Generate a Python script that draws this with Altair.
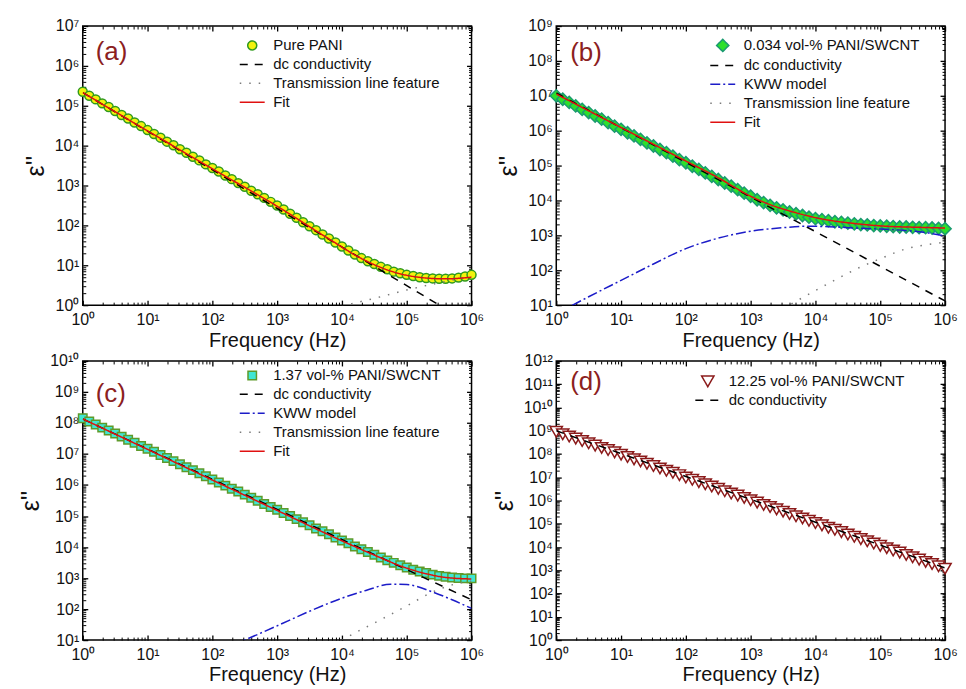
import json
import math
import altair as alt
import pandas as pd

# ---------------- data (log10 values) ----------------
LOG_F = [0.0, 0.1, 0.2, 0.3, 0.4, 0.5, 0.6, 0.7, 0.8, 0.9,
         1.0, 1.1, 1.2, 1.3, 1.4, 1.5, 1.6, 1.7, 1.8, 1.9,
         2.0, 2.1, 2.2, 2.3, 2.4, 2.5, 2.6, 2.7, 2.8, 2.9,
         3.0, 3.1, 3.2, 3.3, 3.4, 3.5, 3.6, 3.7, 3.8, 3.9,
         4.0, 4.1, 4.2, 4.3, 4.4, 4.5, 4.6, 4.7, 4.8, 4.9,
         5.0, 5.1, 5.2, 5.3, 5.4, 5.5, 5.6, 5.7, 5.8, 5.9,
         6.0]

A_DATA = [5.35, 5.25, 5.16, 5.06, 4.97, 4.87, 4.77, 4.68, 4.58, 4.49,
          4.39, 4.29, 4.20, 4.10, 4.01, 3.91, 3.82, 3.72, 3.63, 3.53,
          3.44, 3.35, 3.25, 3.16, 3.06, 2.97, 2.87, 2.78, 2.69, 2.59,
          2.50, 2.40, 2.29, 2.19, 2.08, 1.98, 1.88, 1.77, 1.67, 1.57,
          1.47, 1.37, 1.27, 1.18, 1.10, 1.03, 0.96, 0.90, 0.84, 0.80,
          0.76, 0.73, 0.70, 0.68, 0.67, 0.66, 0.66, 0.67, 0.69, 0.72,
          0.76]
A_FIT_F = [0.0, 1.0, 2.0, 3.0, 3.8, 4.3, 4.8, 5.3, 5.6, 6.0]
A_FIT = [5.33, 4.37, 3.42, 2.48, 1.66, 1.17, 0.83, 0.68, 0.66, 0.70]
A_DC_F = [0.0, 6.0]
A_DC = [5.33, -0.48]
A_TL_F = [4.0, 4.24, 4.5, 5.0, 5.5, 6.0]
A_TL = [-0.03, 0.07, 0.17, 0.38, 0.56, 0.72]

B_DATA = [7.00, 6.90, 6.81, 6.71, 6.61, 6.52, 6.42, 6.33, 6.23, 6.13,
          6.04, 5.94, 5.85, 5.75, 5.65, 5.56, 5.46, 5.37, 5.27, 5.17,
          5.08, 4.98, 4.89, 4.79, 4.69, 4.60, 4.50, 4.41, 4.31, 4.21,
          4.12, 4.02, 3.94, 3.86, 3.79, 3.73, 3.67, 3.62, 3.57, 3.52,
          3.48, 3.45, 3.42, 3.39, 3.37, 3.35, 3.33, 3.31, 3.30, 3.28,
          3.27, 3.26, 3.25, 3.24, 3.24, 3.23, 3.22, 3.22, 3.21, 3.20,
          3.19]
B_FIT_F = [0.0, 0.5, 1.0, 1.5, 2.0, 2.5, 3.0, 3.3, 3.6, 4.1, 4.6, 5.1, 5.6, 6.0]
B_FIT = [7.05, 6.57, 6.09, 5.61, 5.13, 4.65, 4.12, 3.88, 3.70, 3.47, 3.34, 3.26, 3.23, 3.21]
B_DC_F = [0.0, 6.0]
B_DC = [7.08, 1.12]
B_KWW_F = [0.0, 0.5, 1.0, 1.5, 2.0, 2.5, 3.0, 3.5, 3.86, 4.2, 4.62, 5.0, 5.39, 5.7, 6.0]
B_KWW = [0.75, 1.24, 1.71, 2.18, 2.62, 2.92, 3.12, 3.22, 3.26, 3.25, 3.21, 3.18, 3.14, 3.08, 2.98]
B_TL_F = [3.5, 3.65, 4.0, 4.3, 4.67, 5.0, 5.41, 5.87, 6.0]
B_TL = [0.91, 1.06, 1.42, 1.72, 2.07, 2.33, 2.62, 2.77, 2.80]

C_DATA = [8.15, 8.05, 7.95, 7.85, 7.76, 7.66, 7.56, 7.46, 7.36, 7.26,
          7.17, 7.07, 6.97, 6.87, 6.77, 6.67, 6.57, 6.48, 6.38, 6.28,
          6.18, 6.08, 5.98, 5.88, 5.79, 5.69, 5.59, 5.49, 5.39, 5.29,
          5.20, 5.10, 5.00, 4.90, 4.80, 4.70, 4.60, 4.51, 4.41, 4.31,
          4.21, 4.12, 4.02, 3.93, 3.84, 3.75, 3.66, 3.57, 3.49, 3.41,
          3.34, 3.27, 3.21, 3.16, 3.11, 3.07, 3.04, 3.02, 3.00, 2.99,
          2.99]
C_FIT_F = [0.0, 1.0, 2.0, 3.0, 4.0, 4.5, 5.0, 5.3, 5.6, 6.0]
C_FIT = [8.13, 7.15, 6.16, 5.18, 4.20, 3.74, 3.32, 3.14, 3.02, 2.97]
C_DC_F = [0.0, 6.0]
C_DC = [8.13, 2.30]
C_KWW_F = [2.3, 2.5, 3.0, 3.5, 4.0, 4.37, 4.75, 5.0, 5.4, 5.7, 6.0]
C_KWW = [0.82, 1.00, 1.46, 1.93, 2.35, 2.60, 2.80, 2.79, 2.55, 2.30, 2.02]
C_TL_F = [4.0, 4.09, 4.5, 5.0, 5.4, 5.7, 6.0]
C_TL = [0.98, 1.10, 1.55, 2.10, 2.55, 2.78, 2.90]

D_DATA = [8.95, 8.85, 8.75, 8.66, 8.56, 8.46, 8.36, 8.26, 8.17, 8.07,
          7.97, 7.87, 7.77, 7.68, 7.58, 7.48, 7.38, 7.28, 7.19, 7.09,
          6.99, 6.89, 6.79, 6.70, 6.60, 6.50, 6.40, 6.30, 6.21, 6.11,
          6.01, 5.91, 5.81, 5.72, 5.62, 5.52, 5.42, 5.32, 5.23, 5.13,
          5.03, 4.93, 4.83, 4.74, 4.64, 4.54, 4.44, 4.34, 4.25, 4.15,
          4.05, 3.95, 3.85, 3.76, 3.66, 3.56, 3.46, 3.36, 3.27, 3.17,
          3.07]
D_DC_F = [0.0, 6.0]
D_DC = [9.00, 3.10]

SUP = ["⁰", "¹", "²", "³", "⁴", "⁵", "⁶", "⁷", "⁸", "⁹", "¹⁰", "¹¹", "¹²"]

# ---------------- styling ----------------
FONT = "Liberation Sans"
LINE_STYLE = {
    "dc conductivity": ("#000000", [8, 7]),
    "KWW model": ("#1C1CC8", [10, 3, 2, 3]),
    "Transmission line feature": ("#7A7A7A", [1.5, 8]),
    "Fit": ("#E01010", [1, 0]),
}
LEG_LINE_PX = 25      # legend line-sample length
LEG_GAP_PX = 9        # gap between legend sample and its text
LEG_MIN_COL = 16      # legend symbol column never narrower than this
LABEL_EXPR = ("'10' + " + json.dumps(SUP, ensure_ascii=False).replace('"', "'")
              + "[round(log(datum.value) / LN10)]")

PANELS = [
    dict(tag="(a)", ylo=0, yhi=7, label="Pure PANI", shape="circle",
         fill="#F2F20C", edge="#2F9A1C", msize=81, data=A_DATA,
         lines=[("dc conductivity", A_DC_F, A_DC),
                ("Transmission line feature", A_TL_F, A_TL),
                ("Fit", A_FIT_F, A_FIT)],
         leg=(158, 12), tagpos=(13, 26)),
    dict(tag="(b)", ylo=1, yhi=9, label="0.034 vol-% PANI/SWCNT", shape="diamond",
         fill="#2CE02C", edge="#1A9A70", msize=150, data=B_DATA,
         lines=[("dc conductivity", B_DC_F, B_DC),
                ("KWW model", B_KWW_F, B_KWW),
                ("Transmission line feature", B_TL_F, B_TL),
                ("Fit", B_FIT_F, B_FIT)],
         leg=(155, 12), tagpos=(14, 27)),
    dict(tag="(c)", ylo=1, yhi=10, label="1.37 vol-% PANI/SWCNT", shape="square",
         fill="#3FE6D4", edge="#5E9A2A", msize=72, data=C_DATA,
         lines=[("dc conductivity", C_DC_F, C_DC),
                ("KWW model", C_KWW_F, C_KWW),
                ("Transmission line feature", C_TL_F, C_TL),
                ("Fit", C_FIT_F, C_FIT)],
         leg=(158, 7), tagpos=(13, 33)),
    dict(tag="(d)", ylo=0, yhi=12, label="12.25 vol-% PANI/SWCNT", shape="triangle-down",
         fill="#FFFFFF", edge="#8B1A1A", msize=150, data=D_DATA,
         lines=[("dc conductivity", D_DC_F, D_DC)],
         leg=(140, 13), tagpos=(14, 21)),
]

W, H = 390, 280


def decades(lo, hi):
    return [10.0 ** k for k in range(lo, hi + 1)]


def minors(lo, hi):
    return [m * 10.0 ** k for k in range(lo, hi) for m in range(2, 10)]


def axis(orient, values, major, labels=False, title=None, tsize=20, tpad=2, lpad=4):
    size = 5 if major else 3
    kw = dict(orient=orient, values=values, tickSize=size, offset=-size,
              domain=False, grid=False, labels=labels, title=title,
              tickColor="black", tickWidth=1.3 if major else 1.0)
    if labels:
        kw.update(labelExpr=LABEL_EXPR, labelFlush=False, labelOverlap=False,
                  labelPadding=lpad, labelFont=FONT, labelFontSize=16, labelColor="#111")
    if title is not None:
        kw.update(titleFont=FONT, titleFontSize=tsize, titleFontWeight="normal",
                  titleColor="#111", titlePadding=tpad)
    return alt.Axis(**kw)


def panel(p):
    pts = pd.DataFrame({"f": [10 ** v for v in LOG_F],
                        "e": [10 ** v for v in p["data"]],
                        "s": p["label"]})
    rows = []
    for name, fs, vs in p["lines"]:
        for f, v in zip(fs, vs):
            rows.append({"f": 10 ** f, "e": 10 ** v, "s": name})
    lines = pd.DataFrame(rows)
    names = [n for n, _, _ in p["lines"]]
    domain = [p["label"]] + names
    n = len(names)

    # legend line sample: a custom path scaled by sqrt(size)/2 so it is LEG_LINE_PX long
    side = math.sqrt(p["msize"])
    col = max(side, LEG_MIN_COL)
    half = (LEG_LINE_PX / 2) / (side / 2)
    line_path = f"M{-half:.3f},0H{half:.3f}"
    lab_off = LEG_LINE_PX / 2 - col / 2 + LEG_GAP_PX
    leg_x = p["leg"][0] + LEG_LINE_PX / 2 - col / 2

    xs = alt.Scale(type="log", domain=[1, 1e6], nice=False)
    ys = alt.Scale(type="log", domain=[10.0 ** p["ylo"], 10.0 ** p["yhi"]], nice=False)
    fill_s = alt.Scale(domain=domain, range=[p["fill"]] + ["transparent"] * n)
    stroke_s = alt.Scale(domain=domain, range=[p["edge"]] + [LINE_STYLE[k][0] for k in names])
    shape_s = alt.Scale(domain=domain, range=[p["shape"]] + [line_path] * n)
    dash_s = alt.Scale(domain=domain, range=[[1, 0]] + [LINE_STYLE[k][1] for k in names])
    leg = alt.Legend(orient="none", legendX=leg_x, legendY=p["leg"][1], title=None,
                     labelFont=FONT, labelFontSize=15, labelColor="#111", labelLimit=400,
                     rowPadding=3, labelOffset=lab_off, symbolStrokeWidth=1.5,
                     symbolSize=p["msize"], padding=0)

    xdec, xmin = decades(0, 6), minors(0, 6)
    ydec, ymin = decades(p["ylo"], p["yhi"]), minors(p["ylo"], p["yhi"])

    points = alt.Chart(pts).mark_point(filled=True, strokeWidth=1.5, opacity=1,
                                       size=p["msize"]).encode(
        x=alt.X("f:Q", scale=xs, axis=axis("bottom", xdec, True, labels=True,
                                           title="Frequency (Hz)", tsize=20, tpad=3, lpad=6)),
        y=alt.Y("e:Q", scale=ys, axis=axis("left", ydec, True, labels=True,
                                           title="ε''", tsize=25, tpad=6, lpad=4)),
        fill=alt.Fill("s:N", scale=fill_s, legend=leg),
        stroke=alt.Stroke("s:N", scale=stroke_s, legend=leg),
        shape=alt.Shape("s:N", scale=shape_s, legend=leg),
    )
    curve = alt.Chart(lines).mark_line(strokeWidth=1.5, clip=True, interpolate="monotone").encode(
        x=alt.X("f:Q", scale=xs, axis=None),
        y=alt.Y("e:Q", scale=ys, axis=None),
        stroke=alt.Stroke("s:N", scale=stroke_s, legend=leg),
        strokeDash=alt.StrokeDash("s:N", scale=dash_s, legend=leg),
    )
    tag = alt.Chart(pd.DataFrame({"t": [p["tag"]]})).mark_text(
        font=FONT, fontSize=26, color="#8B2020", align="left", baseline="middle"
    ).encode(text="t:N", x=alt.value(p["tagpos"][0]), y=alt.value(p["tagpos"][1]))

    def ghost(xa, ya):
        return alt.Chart(pts).mark_point(opacity=0, size=1).encode(
            x=alt.X("f:Q", scale=xs, axis=xa), y=alt.Y("e:Q", scale=ys, axis=ya))

    g1 = ghost(axis("bottom", xmin, False), axis("left", ymin, False))
    g2 = ghost(axis("top", xdec, True), axis("right", ydec, True))
    g3 = ghost(axis("top", xmin, False), axis("right", ymin, False))

    return alt.layer(points, curve, tag, g1, g2, g3).resolve_axis(
        x="independent", y="independent").properties(width=W, height=H)


chart = alt.concat(*[panel(p) for p in PANELS], columns=2, bounds="flush",
                   spacing={"row": 56, "column": 85}).resolve_scale(
    x="independent", y="independent", fill="independent", stroke="independent",
    shape="independent", strokeDash="independent"
).properties(
    padding={"left": 10, "top": 8, "right": 0, "bottom": 0}
).configure_view(stroke="black", strokeWidth=1.5)

chart.save("out.html", embed_options={"renderer": "svg", "actions": False})
